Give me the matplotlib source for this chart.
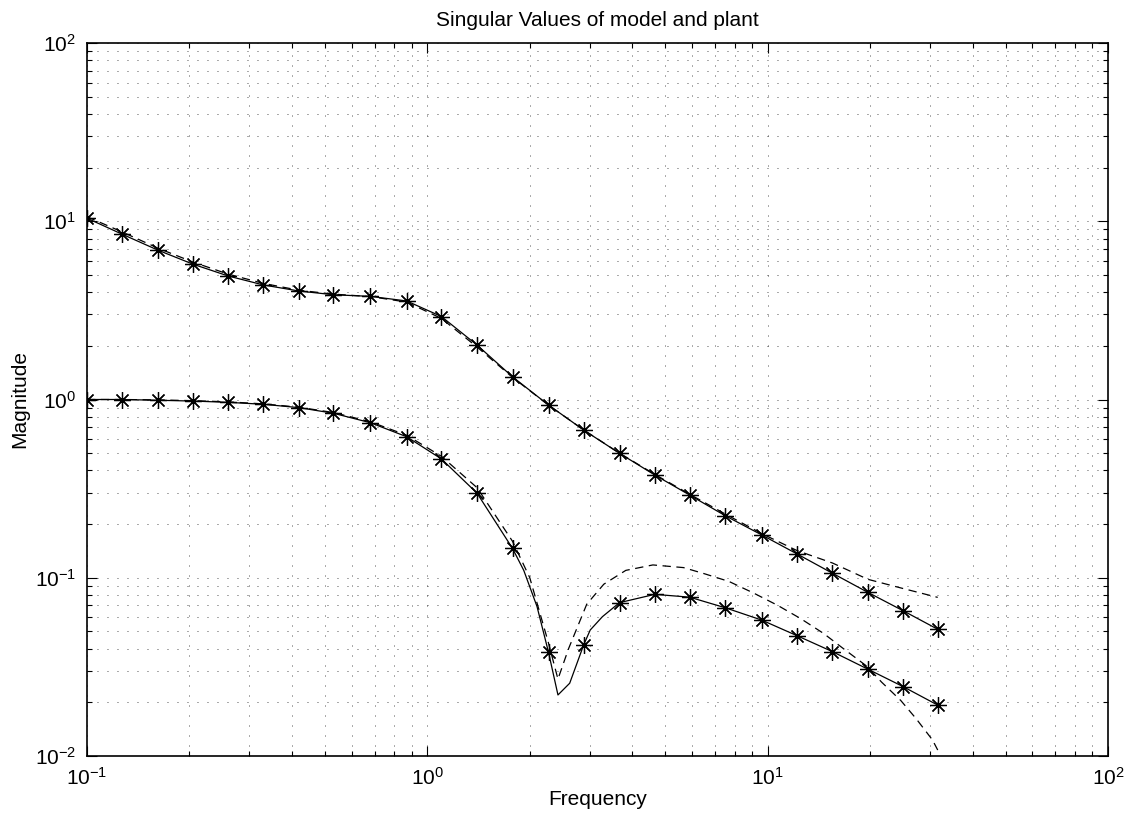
import numpy as np
import matplotlib
matplotlib.use("Agg")
import matplotlib.pyplot as plt

plt.rcParams['font.family'] = ['Liberation Sans', 'DejaVu Sans']
plt.rcParams['mathtext.default'] = 'regular'
plt.rcParams['lines.scale_dashes'] = False

# frequencies where the markers sit
freq = [0.1, 0.127, 0.162, 0.205, 0.26, 0.33, 0.42, 0.53, 0.68, 0.87,
        1.1, 1.4, 1.78, 2.27, 2.88, 3.67, 4.66, 5.9, 7.5, 9.6,
        12.2, 15.5, 19.7, 25.0, 31.6]

# model, first singular value (solid, with markers)
sv1_model = [10.4, 8.45, 6.87, 5.74, 4.93, 4.39, 4.06, 3.87, 3.79, 3.57,
             2.92, 2.02, 1.34, 0.931, 0.674, 0.499, 0.377, 0.291, 0.223, 0.174,
             0.136, 0.106, 0.0828, 0.0653, 0.0514]
# model, second singular value (markers)
sv2_model = [1.0, 1.0, 0.99, 0.98, 0.964, 0.94, 0.90, 0.837, 0.741, 0.618,
             0.464, 0.298, 0.146, 0.0382, 0.042, 0.0725, 0.0807, 0.0778, 0.0679, 0.0579,
             0.0473, 0.0385, 0.0307, 0.0245, 0.0193]
# solid line for second singular value (denser near the notch)
sv2_line_f = [0.1, 0.127, 0.162, 0.205, 0.26, 0.33, 0.42, 0.53, 0.68, 0.87,
              1.1, 1.4, 1.78, 1.92, 2.10, 2.27, 2.42, 2.62, 2.88, 3.01, 3.27, 3.67,
              4.66, 5.9, 7.5, 9.6, 12.2, 15.5, 19.7, 25.0, 31.6]
sv2_line = [1.0, 1.0, 0.99, 0.98, 0.964, 0.94, 0.90, 0.837, 0.741, 0.618,
            0.464, 0.298, 0.146, 0.110, 0.069, 0.0382, 0.022, 0.0256, 0.042, 0.0509, 0.0605, 0.0725,
            0.0807, 0.0778, 0.0679, 0.0579, 0.0473, 0.0385, 0.0307, 0.0245, 0.0193]

# plant, first singular value (dashed)
sv1_plant = [10.6, 8.7, 7.05, 5.9, 5.05, 4.48, 4.1, 3.9, 3.78, 3.52,
             2.85, 1.97, 1.33, 0.93, 0.675, 0.50, 0.38, 0.294, 0.228, 0.177,
             0.142, 0.121, 0.098, 0.087, 0.0776]
# plant, second singular value (dashed)
sv2_plant_f = [0.1, 0.127, 0.162, 0.205, 0.26, 0.33, 0.42, 0.53, 0.68, 0.87,
               1.1, 1.4, 1.78, 2.0, 2.27, 2.42, 2.6, 2.94, 3.3, 3.83, 4.6, 5.66,
               6.5, 7.7, 9.1, 10.7, 12.5, 14.6, 16.7, 19.6, 21.6, 24.6, 27.3, 30.5, 31.6]
sv2_plant = [1.0, 1.0, 0.995, 0.985, 0.97, 0.945, 0.905, 0.845, 0.75, 0.63,
             0.48, 0.32, 0.16, 0.10, 0.043, 0.027, 0.040, 0.071, 0.092, 0.110, 0.118, 0.114,
             0.1055, 0.0953, 0.082, 0.070, 0.059, 0.0487, 0.040, 0.0318, 0.026, 0.0205, 0.0162, 0.0123, 0.0108]

fig = plt.figure(figsize=(11.31, 8.16), dpi=100)
ax = fig.add_axes([87/1131, 60/816, (1108-87)/1131, (756-43)/816])

ax.set_xscale('log')
ax.set_yscale('log')
ax.set_xlim(0.1, 100)
ax.set_ylim(0.01, 100)

star = (8, 2, 0)
lw = 0.9
ax.plot(freq, sv1_model, color='k', lw=lw, marker=star, ms=12, mew=0.9)
ax.plot(sv2_line_f, sv2_line, color='k', lw=lw)
ax.plot(freq, sv2_model, ls='none', color='k', marker=star, ms=12, mew=0.9)
ax.plot(freq, sv1_plant, color='k', lw=lw, dashes=(6, 4))
ax.plot(sv2_plant_f, sv2_plant, color='k', lw=lw, dashes=(6, 4))

ax.grid(True, which='both', color='#333333', lw=0.6, dashes=(0.7, 6.5))
ax.set_axisbelow(True)

ax.tick_params(which='both', direction='in', top=True, right=True, labelsize=15, width=0.8)
ax.tick_params(which='major', length=7, pad=8)
ax.tick_params(which='minor', length=3.5)
for s in ax.spines.values():
    s.set_linewidth(1.2)

ax.set_xlabel('Frequency', fontsize=15, labelpad=1)
ax.set_ylabel('Magnitude', fontsize=15, labelpad=4)
ax.set_title('Singular Values of model and plant', fontsize=15, pad=12)

fig.savefig('out.png', dpi=100, facecolor='white')
